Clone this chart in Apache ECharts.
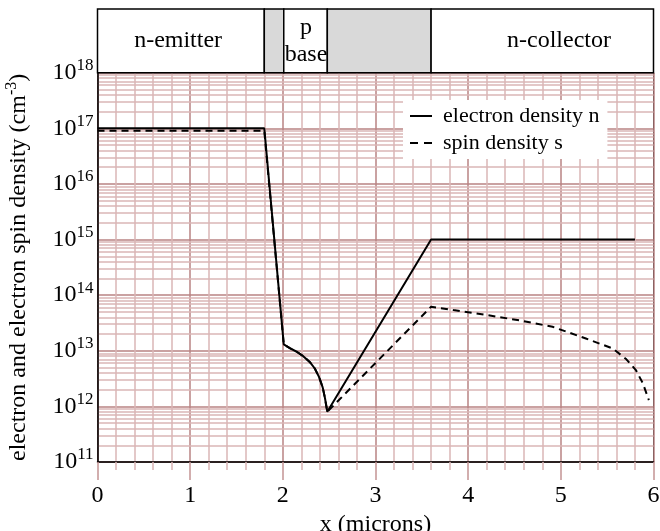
<!DOCTYPE html>
<html>
<head>
<meta charset="utf-8">
<script src="https://cdn.jsdelivr.net/npm/echarts@6/dist/echarts.min.js"></script>
<style>
html,body{margin:0;padding:0;background:#fff;}
#chart{width:660px;height:531px;}
</style>
</head>
<body>
<div id="chart"></div>
<script>
// ---- data ----
const nX = [0, 1.8, 2.01, 2.08, 2.15, 2.22, 2.29, 2.345, 2.39, 2.43, 2.455, 2.48, 3.6, 5.8];
const nY = [1e17, 1e17, 1.3e13, 1.1e13, 9.6e12, 8e12, 6.3e12, 4.8e12, 3.4e12, 2.2e12, 1.4e12, 8e11, 1e15, 1e15];
const sX = [0, 1.8, 2.01, 2.08, 2.15, 2.22, 2.29, 2.345, 2.39, 2.43, 2.455, 2.48, 3.6, 3.84, 4.2, 4.56, 4.91, 5.27, 5.56, 5.7, 5.81, 5.885, 5.95];
const sY = [9e16, 9e16, 1.3e13, 1.1e13, 9.6e12, 8e12, 6.3e12, 4.8e12, 3.4e12, 2.2e12, 1.4e12, 8e11, 6.2e13, 5.4e13, 4.4e13, 3.5e13, 2.7e13, 1.66e13, 1.1e13, 7.2e12, 4.5e12, 2.6e12, 1.3e12];
const seriesNames = ['electron density n', 'spin density s'];
const regionStart = [0, 1.8, 2.01, 2.48, 3.6];
const regionEnd = [1.8, 2.01, 2.48, 3.6, 6];
const regionShaded = [false, true, false, true, false];
const regionLabel = ['n-emitter', '', 'p\nbase', '', 'n-collector'];
const regionLabelX = [0.87, 1.9, 2.25, 3.0, 4.98];
const xTicks = [0, 1, 2, 3, 4, 5, 6];
const yDecadeExps = [11, 12, 13, 14, 15, 16, 17];
const yMinorMult = [2, 3, 4, 5, 6, 7, 8, 9];

const FONT = 'Liberation Serif';
const zip = (a, b) => a.map((v, i) => [v, b[i]]);

const minorY = [];
yDecadeExps.forEach(e => yMinorMult.forEach(m => minorY.push({ yAxis: m * Math.pow(10, e) })));

const chart = echarts.init(document.getElementById('chart'), null, { renderer: 'canvas' });
chart.setOption({
  animation: false,
  backgroundColor: '#fff',
  grid: [
    { left: 97.5, right: 6.5, top: 9, bottom: 458.3, outerBoundsMode: 'none', containLabel: false },
    { left: 97.5, right: 6.5, top: 72.7, bottom: 69, outerBoundsMode: 'none', containLabel: false,
      show: true, borderColor: '#000', borderWidth: 1, backgroundColor: 'transparent' }
  ],
  xAxis: [
    { gridIndex: 0, type: 'value', min: 0, max: 6, show: false },
    {
      gridIndex: 1, type: 'value', min: 0, max: 6, interval: 1,
      name: 'x (microns)', nameLocation: 'middle', nameGap: 47,
      nameTextStyle: { fontFamily: FONT, fontSize: 24, color: '#000' },
      axisLine: { show: true, lineStyle: { color: '#000', width: 1.5 } },
      axisTick: { show: true, length: 18, lineStyle: { color: '#c49494', width: 1.5 } },
      minorTick: { show: true, splitNumber: 5, length: 8, lineStyle: { color: '#d9b4b4', width: 1.5 } },
      splitLine: { show: true, lineStyle: { color: '#b98383', width: 1.5 } },
      minorSplitLine: { show: true, lineStyle: { color: '#dab6b6', width: 1.5 } },
      axisLabel: { fontFamily: FONT, fontSize: 24, color: '#000', margin: 22,
        formatter: v => xTicks.includes(v) ? String(v) : '' }
    }
  ],
  yAxis: [
    { gridIndex: 0, type: 'value', min: 0, max: 1, show: false },
    {
      gridIndex: 1, type: 'log', logBase: 10, min: 1e11, max: 1e18, splitNumber: 7,
      name: '{t|electron and electron spin density (cm}{s|-3}{t|)}',
      nameLocation: 'middle', nameGap: 64, nameRotate: 90,
      nameTextStyle: { rich: {
        t: { fontFamily: FONT, fontSize: 24, color: '#000' },
        s: { fontFamily: FONT, fontSize: 16, color: '#000', padding: [0, 0, 14, 0] }
      } },
      axisLine: { show: true, lineStyle: { color: '#000', width: 1.5 } },
      axisTick: { show: false },
      splitLine: { show: true, lineStyle: { color: '#b98383', width: 1.5 } },
      axisLabel: {
        margin: 4,
        formatter: v => '{b|10}{s|' + Math.round(Math.log10(v)) + '}',
        rich: {
          b: { fontFamily: FONT, fontSize: 24, color: '#000' },
          s: { fontFamily: FONT, fontSize: 17, color: '#000', padding: [0, 0, 14, 0] }
        }
      }
    }
  ],
  legend: {
    data: [
      { name: seriesNames[0], icon: 'path://M0,0L22,0L22,2L0,2Z' },
      { name: seriesNames[1], icon: 'path://M0,0L8,0L8,2L0,2ZM14,0L22,0L22,2L14,2Z' }
    ],
    orient: 'vertical', left: 403, top: 100, z: 10,
    backgroundColor: '#fff', padding: [5, 8, 5, 7],
    itemWidth: 22, itemHeight: 2, itemGap: 5,
    itemStyle: { color: '#000', borderWidth: 0 },
    lineStyle: { width: 0 },
    textStyle: { fontFamily: FONT, fontSize: 22, color: '#000', padding: [0, 0, 0, 6] }
  },
  series: [
    {
      type: 'custom', xAxisIndex: 0, yAxisIndex: 0, silent: true,
      data: regionStart.map((s, i) => [s, regionEnd[i], regionShaded[i] ? 1 : 0, i]),
      renderItem: (params, api) => {
        const i = api.value(3);
        const p0 = api.coord([api.value(0), 1]);
        const p1 = api.coord([api.value(1), 0]);
        const lbl = api.coord([regionLabelX[i], 0.5]);
        return {
          type: 'group',
          children: [
            { type: 'rect', shape: { x: p0[0], y: p0[1], width: p1[0] - p0[0], height: p1[1] - p0[1] },
              style: { fill: api.value(2) ? '#d9d9d9' : '#fff', stroke: '#000', lineWidth: 1.5 } },
            { type: 'text', x: lbl[0], y: lbl[1],
              style: { text: regionLabel[i], align: 'center', verticalAlign: 'middle',
                fontFamily: FONT, fontSize: 24, lineHeight: 27, fill: '#000' } }
          ]
        };
      }
    },
    {
      name: 'grid-minor', type: 'line', xAxisIndex: 1, yAxisIndex: 1, data: [], z: 0, silent: true,
      markLine: { z: 0, silent: true, symbol: ['none', 'none'], label: { show: false },
        lineStyle: { color: '#dab6b6', width: 1.5, type: 'solid' }, data: minorY, animation: false }
    },
    {
      name: seriesNames[0], type: 'line', xAxisIndex: 1, yAxisIndex: 1, symbol: 'none', z: 5,
      lineStyle: { color: '#000', width: 2 }, itemStyle: { color: '#000' },
      data: zip(nX, nY)
    },
    {
      name: seriesNames[1], type: 'line', xAxisIndex: 1, yAxisIndex: 1, symbol: 'none', z: 4,
      lineStyle: { color: '#000', width: 2, type: [7, 5] }, itemStyle: { color: '#000' },
      data: zip(sX, sY)
    }
  ]
});
</script>
</body>
</html>
